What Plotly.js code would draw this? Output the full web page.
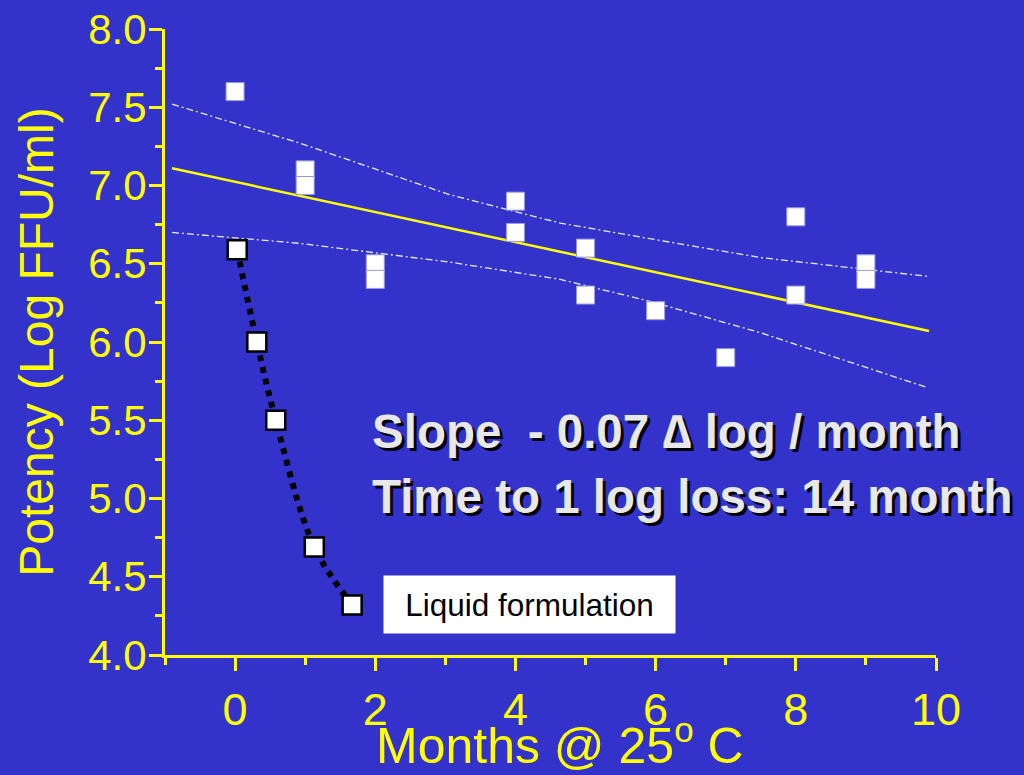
<!DOCTYPE html>
<html>
<head>
<meta charset="utf-8">
<script src="https://cdn.plot.ly/plotly-3.0.1.min.js"></script>
<style>html,body{margin:0;padding:0;background:#3333cc;}#chart{width:1024px;height:775px;}</style>
</head>
<body>
<div id="chart"></div>
<script>
// Lyophilized (stable) potency measurements
const monthsStable = [0, 1, 1, 2, 2, 4, 4, 5, 5, 6, 7, 8, 8, 9, 9];
const potencyStable = [7.6, 7.1, 7.0, 6.5, 6.4, 6.9, 6.7, 6.6, 6.3, 6.2, 5.9, 6.8, 6.3, 6.5, 6.4];

// Regression line
const regX = [-0.9, 9.9];
const regY = [7.11, 6.07];

// Confidence band (upper / lower)
const bandX = [-0.9, 0.93, 3.07, 4.64, 5.92, 7.49, 9.87];
const bandUpper = [7.52, 7.27, 6.94, 6.76, 6.66, 6.54, 6.42];
const bandLower = [6.70, 6.63, 6.51, 6.40, 6.26, 6.06, 5.71];

// Liquid formulation
const monthsLiquid = [0.03, 0.31, 0.58, 1.13, 1.67];
const potencyLiquid = [6.59, 6.0, 5.5, 4.69, 4.32];

// Axis ticks
const xTicks = [0, 2, 4, 6, 8, 10];
const yTicks = [4.0, 4.5, 5.0, 5.5, 6.0, 6.5, 7.0, 7.5, 8.0];

const FONT = '"Liberation Sans", Arial, sans-serif';
const BG = '#3333cc';
const YEL = '#ffff00';

const traces = [
  {x: bandX, y: bandUpper, mode: 'lines', type: 'scatter',
   line: {color: '#e8e8ff', width: 1.3, dash: '7px,3px,2px,3px'}, hoverinfo: 'skip'},
  {x: bandX, y: bandLower, mode: 'lines', type: 'scatter',
   line: {color: '#e8e8ff', width: 1.3, dash: '7px,3px,2px,3px'}, hoverinfo: 'skip'},
  {x: regX, y: regY, mode: 'lines', type: 'scatter',
   line: {color: YEL, width: 2.5}},
  {x: monthsStable, y: potencyStable, mode: 'markers', type: 'scatter',
   marker: {symbol: 'square', size: 18, color: '#ffffff', line: {color: '#9999e6', width: 1}}},
  {x: monthsLiquid, y: potencyLiquid, mode: 'lines+markers', type: 'scatter',
   line: {color: '#000000', width: 6, dash: 'dot', shape: 'spline', smoothing: 1},
   marker: {symbol: 'square', size: 19, color: '#ffffff', line: {color: '#000000', width: 2.5}}}
];

const layout = {
  width: 1024, height: 775,
  paper_bgcolor: BG, plot_bgcolor: BG,
  showlegend: false,
  margin: {l: 165, r: 88, t: 29, b: 120},
  font: {family: FONT, color: YEL},
  xaxis: {
    range: [-1, 10], tickmode: 'array', tickvals: xTicks, ticktext: xTicks.map(String),
    showgrid: false, zeroline: false,
    showline: true, linecolor: YEL, linewidth: 3,
    ticks: 'outside', ticklen: 13, tickwidth: 3, tickcolor: YEL,
    minor: {dtick: 1, tick0: 0, ticks: 'outside', ticklen: 7, tickwidth: 3, tickcolor: YEL},
    tickfont: {size: 45, color: YEL, family: FONT}
  },
  yaxis: {
    range: [4, 8], tickmode: 'array', tickvals: yTicks, ticktext: yTicks.map(v => v.toFixed(1)),
    showgrid: false, zeroline: false,
    showline: true, linecolor: YEL, linewidth: 3,
    ticks: 'outside', ticklen: 13, tickwidth: 3, tickcolor: YEL,
    ticklabelstandoff: -6,
    minor: {dtick: 0.25, tick0: 0, ticks: 'outside', ticklen: 7, tickwidth: 3, tickcolor: YEL},
    tickfont: {size: 42, color: YEL, family: FONT},
    title: {text: 'Potency (Log FFU/ml)', font: {size: 48, color: YEL, family: FONT}, standoff: 20}
  },
  annotations: [
    {x: 0.5125, y: -0.191, xref: 'paper', yref: 'paper', xanchor: 'center', yanchor: 'bottom', showarrow: false,
     text: 'Months @ 25<sup>o</sup> C', borderpad: 0,
     font: {size: 50, color: YEL, family: FONT}},
    {x: 1.93, y: 5.425, xref: 'x', yref: 'y', xanchor: 'left', yanchor: 'middle', showarrow: false,
     text: 'Slope  - 0.07 \u2206 log / month',
     font: {size: 47.5, color: '#e8e8e8', family: FONT, weight: 700, shadow: '3px 3px 0px #000000'}},
    {x: 1.93, y: 5.016, xref: 'x', yref: 'y', xanchor: 'left', yanchor: 'middle', showarrow: false,
     text: 'Time to 1 log loss: 14 month',
     font: {size: 47.5, color: '#e8e8e8', family: FONT, weight: 700, shadow: '3px 3px 0px #000000'}},
    {x: 4.2, y: 4.32, xref: 'x', yref: 'y', xanchor: 'center', yanchor: 'middle', showarrow: false,
     text: 'Liquid formulation', bgcolor: '#ffffff', width: 287, height: 53, borderpad: 2,
     font: {size: 31.5, color: '#000000', family: FONT}}
  ]
};

Plotly.newPlot('chart', traces, layout, {displayModeBar: false, staticPlot: true});
</script>
</body>
</html>
